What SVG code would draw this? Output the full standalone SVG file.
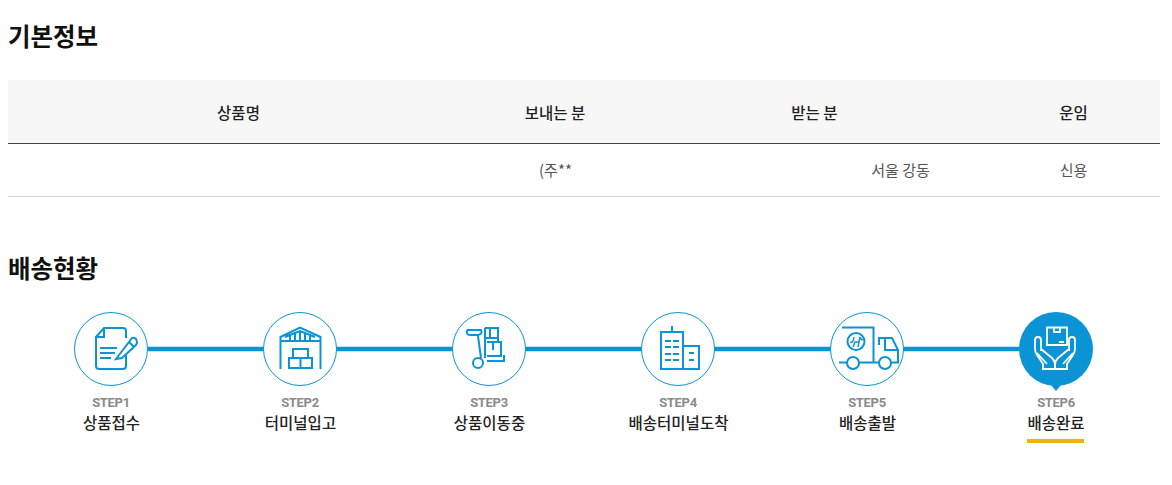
<svg xmlns="http://www.w3.org/2000/svg" width="1172" height="485" viewBox="0 0 1172 485">
<defs>
<g id="hand"><path d="M1043 369V364L1037 355Q1035 352 1035 349V340Q1035 337 1038 337Q1041 337 1041 340V351M1037 353L1047 364M1041 349L1052 358Q1055 361 1055 365V369M1042 369H1055"/></g>
</defs>
<style>
text{font-family:"Noto Sans CJK KR","Noto Sans",sans-serif}
.h{font-size:24.500px;font-weight:700;fill:#111}
.th{font-size:15.500px;font-weight:500;fill:#222;text-anchor:middle}
.td{font-size:15px;font-weight:400;fill:#555;text-anchor:middle}
.st{font-size:13px;font-weight:700;fill:#8a8a8a;text-anchor:middle;letter-spacing:-.3px;font-family:"Roboto","Noto Sans",sans-serif}
.lb{font-size:15.500px;font-weight:500;fill:#222;text-anchor:middle}
.c{fill:#fff;stroke:#0a94d6;stroke-width:1}
.i{fill:none;stroke:#0a94d6;stroke-width:2}
.w{fill:none;stroke:#fff;stroke-width:1.800}
</style>
<rect width="1172" height="485" fill="#fff"/>
<g id="title-basic"><text class="h" x="8" y="46">기본정보</text></g>
<g id="table">
<rect x="8" y="80" width="1152" height="63" fill="#f7f7f7"/>
<line x1="8" y1="143.500" x2="1160" y2="143.500" stroke="#444"/>
<line x1="8" y1="196.500" x2="1160" y2="196.500" stroke="#d5d5d5"/>
<text class="th" x="238.500" y="118.500">상품명</text>
<text class="th" x="555" y="118.500">보내는 분</text>
<text class="th" x="814.500" y="118.500">받는 분</text>
<text class="th" x="1073.500" y="118.500">운임</text>
<text class="td" x="555.500" y="176">(주**</text>
<text class="td" x="900.500" y="176">서울 강동</text>
<text class="td" x="1073.500" y="176">신용</text>
</g>
<g id="title-status"><text class="h" x="8" y="278">배송현황</text></g>
<g id="connectors">
<line x1="148" y1="349" x2="1020" y2="349" stroke="#0a94d6" stroke-width="4.500"/>
</g>
<g id="step1">
<circle class="c" cx="111" cy="349" r="36.500"/>
<path class="i" d="M126 338V331Q126 328 123 328H104L96 337V366Q96 369 99 369H123Q126 369 126 366V355M104 328V337H96M100 348H117M100 353H115M100 358H111"/>
<path class="i" d="M116 359L132 338Q134 337 136 339L137 342Q137 344 136 345L122 358ZM129 342L134 347"/>
<text class="st" x="111" y="407">STEP1</text><text class="lb" x="111.500" y="428.500">상품접수</text>
</g>
<g id="step2">
<circle class="c" cx="300" cy="349" r="36.500"/>
<path class="i" d="M280.500 369V337L300 327.500L320.500 337V369M280.500 341H320.500M285 337L300 331L315 337M290 334V340M295 332V340M300 331V340M305 332V340M310 334V340"/>
<path class="i" d="M289 358H312V368H289ZM300.500 358V368M293 358V349H308V358"/>
<text class="st" x="300" y="407">STEP2</text><text class="lb" x="300.500" y="428.500">터미널입고</text>
</g>
<g id="step3">
<circle class="c" cx="489" cy="349" r="36.500"/>
<circle class="i" cx="478" cy="363" r="5"/>
<path class="i" d="M485 328V358M467 330H481Q483 334 478 335H470Q466 335 467 330M478 336L481 358M487 361H504V355M485 328H498V341M490 328V338M485 338H498M487 342H501V356H487M493 342V350"/>
<text class="st" x="489" y="407">STEP3</text><text class="lb" x="489.500" y="428.500">상품이동중</text>
</g>
<g id="step4">
<circle class="c" cx="678" cy="349" r="36.500"/>
<path class="i" d="M661 332H683V369H661ZM683 346H699V369H683ZM672 332V326"/>
<path class="i" stroke-dasharray="6 2" d="M665 341H681M665 347H681M665 354H681M665 360H681"/>
<path class="i" d="M689 353H694M689 360H694"/>
<text class="st" x="678" y="407">STEP4</text><text class="lb" x="678.500" y="428.500">배송터미널도착</text>
</g>
<g id="step5">
<circle class="c" cx="867" cy="349" r="36.500"/>
<path class="i" d="M842 327.500H873.500V362M839 362.500H847M859 362.500H879M891 362.500H898V350L892 338H879V345M885 338V350H898"/>
<circle class="i" cx="853" cy="363" r="6"/><circle class="i" cx="885" cy="363" r="6"/>
<circle class="i" cx="856" cy="341.500" r="8.500"/>
<path class="i" style="stroke-width:1.500" d="M850 342Q853 344 854 337M853 347L855 342H859M858 347L860 337Q861 341 864 339"/>
<text class="st" x="867" y="407">STEP5</text><text class="lb" x="867.500" y="428.500">배송출발</text>
</g>
<g id="step6">
<path d="M1051 385L1056 391L1061 385Z" fill="#0a94d6"/>
<circle cx="1056" cy="349" r="37" fill="#0a94d6"/>
<path class="w" d="M1047 327.500H1067V345H1047ZM1054 327.500V332H1060V327.500M1059 342H1064"/>
<use href="#hand" class="w"/>
<use href="#hand" class="w" transform="translate(2110 0) scale(-1 1)"/>
<text class="st" x="1056" y="407">STEP6</text><text class="lb" x="1056" y="428.500">배송완료</text>
<rect x="1027" y="439" width="57" height="4" fill="#eeb30e"/>
</g>
</svg>
